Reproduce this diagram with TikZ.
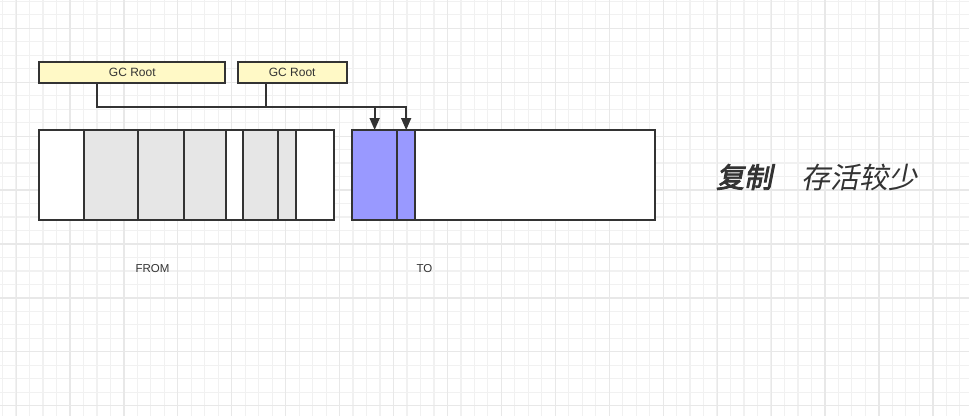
\documentclass[tikz,border=0pt]{standalone}
\usepackage{fontspec}
\setmainfont{Liberation Sans}
\newfontfamily\cjkit[FakeSlant=0.2]{Noto Sans CJK SC}
\newfontfamily\cjkbfit[FakeSlant=0.2,FakeBold=3]{Noto Sans CJK SC}
\usetikzlibrary{arrows.meta}
\definecolor{ink}{HTML}{333333}
\definecolor{rootyellow}{HTML}{FFF9C6}
\definecolor{cellgray}{HTML}{E6E6E6}
\definecolor{cellblue}{HTML}{9999FF}
\definecolor{gridminor}{HTML}{F1F1F1}
\definecolor{gridmajor}{HTML}{E8E8E8}
\tikzset{
	root/.style = {draw = ink, line width = 1.9pt, fill = rootyellow, minimum height = 21pt, inner sep = 0pt, outer sep = 0pt, text = ink, font = \fontsize{12}{14}\selectfont},
	cell/.style = {draw = ink, line width = 1.9pt, minimum height = 90pt, inner sep = 0pt, outer sep = 0pt, anchor = north west},
	conn/.style = {draw = ink, line width = 1.7pt},
	tip/.style = {-{Triangle[width = 10pt, length = 12pt]}},
	label/.style = {text = ink, inner sep = 0pt, font = \fontsize{11.5}{13}\selectfont}
}
\begin{document}
\begin{tikzpicture}[x = 1pt, y = -1pt]
	\fill[white] (0, 0) rectangle (969, 416);
	\useasboundingbox (0, 0) rectangle (969, 416);
	% grid
	\foreach \i in {0, ..., 71} {
		\draw[gridminor, line width = 1.2pt] ({2.6 + 13.48*\i}, 0) -- ({2.6 + 13.48*\i}, 416);
	}
	\foreach \i in {0, ..., 31} {
		\draw[gridminor, line width = 1.2pt] (0, {1.3 + 13.48*\i}) -- (969, {1.3 + 13.48*\i});
	}
	\foreach \i in {0, ..., 17} {
		\draw[gridmajor, line width = 1.2pt] ({16.1 + 53.93*\i}, 0) -- ({16.1 + 53.93*\i}, 416);
	}
	\foreach \i in {0, ..., 7} {
		\draw[gridmajor, line width = 1.2pt] (0, {28.3 + 53.93*\i}) -- (969, {28.3 + 53.93*\i});
	}
	
	% from space
	\foreach \a/\b/\c [count = \i] in {39.3/84.3/white, 84.3/138.3/cellgray, 138.3/183.7/cellgray, 183.7/225.7/cellgray, 225.7/243.3/white, 243.3/277.7/cellgray, 277.7/295.7/cellgray, 295.7/334.3/white} {
		\node[cell, fill = \c, minimum width = {(\b - \a)*1pt}] (from\i) at (\a, 130) {};
	}
	% to space
	\foreach \a/\b/\c [count = \i] in {352.3/397/cellblue, 397/415.3/cellblue, 415.3/655/white} {
		\node[cell, fill = \c, minimum width = {(\b - \a)*1pt}] (to\i) at (\a, 130) {};
	}
	
	\node[root, minimum width = 186pt] (root1) at (132.3, 72.8) {GC Root};
	\node[root, minimum width = 109pt] (root2) at (292.2, 72.8) {GC Root};
	
	\coordinate (bus) at (266, 106.7);
	\draw[conn, tip] ([xshift = 57.4pt]root1.south west) |- (bus) -- (to2.north |- bus) -- (to2.north);
	\draw[conn] ([xshift = 28.3pt]root2.south west) -- (bus);
	\draw[conn, tip] (to1.north |- bus) -- (to1.north);
	
	\node[label] (fromlabel) at (152.5, 268.5) {FROM};
	\node[label] (tolabel) at (424.5, 268.5) {TO};
	
	\node[anchor = west, inner sep = 0pt, text = ink, font = \fontsize{28}{30}\selectfont] (copy) at (716, 177) {\cjkbfit 复制};
	\node[anchor = west, inner sep = 0pt, text = ink, font = \fontsize{29}{31}\selectfont] (few) at (801, 177) {\cjkit 存活较少};
\end{tikzpicture}
\end{document}
